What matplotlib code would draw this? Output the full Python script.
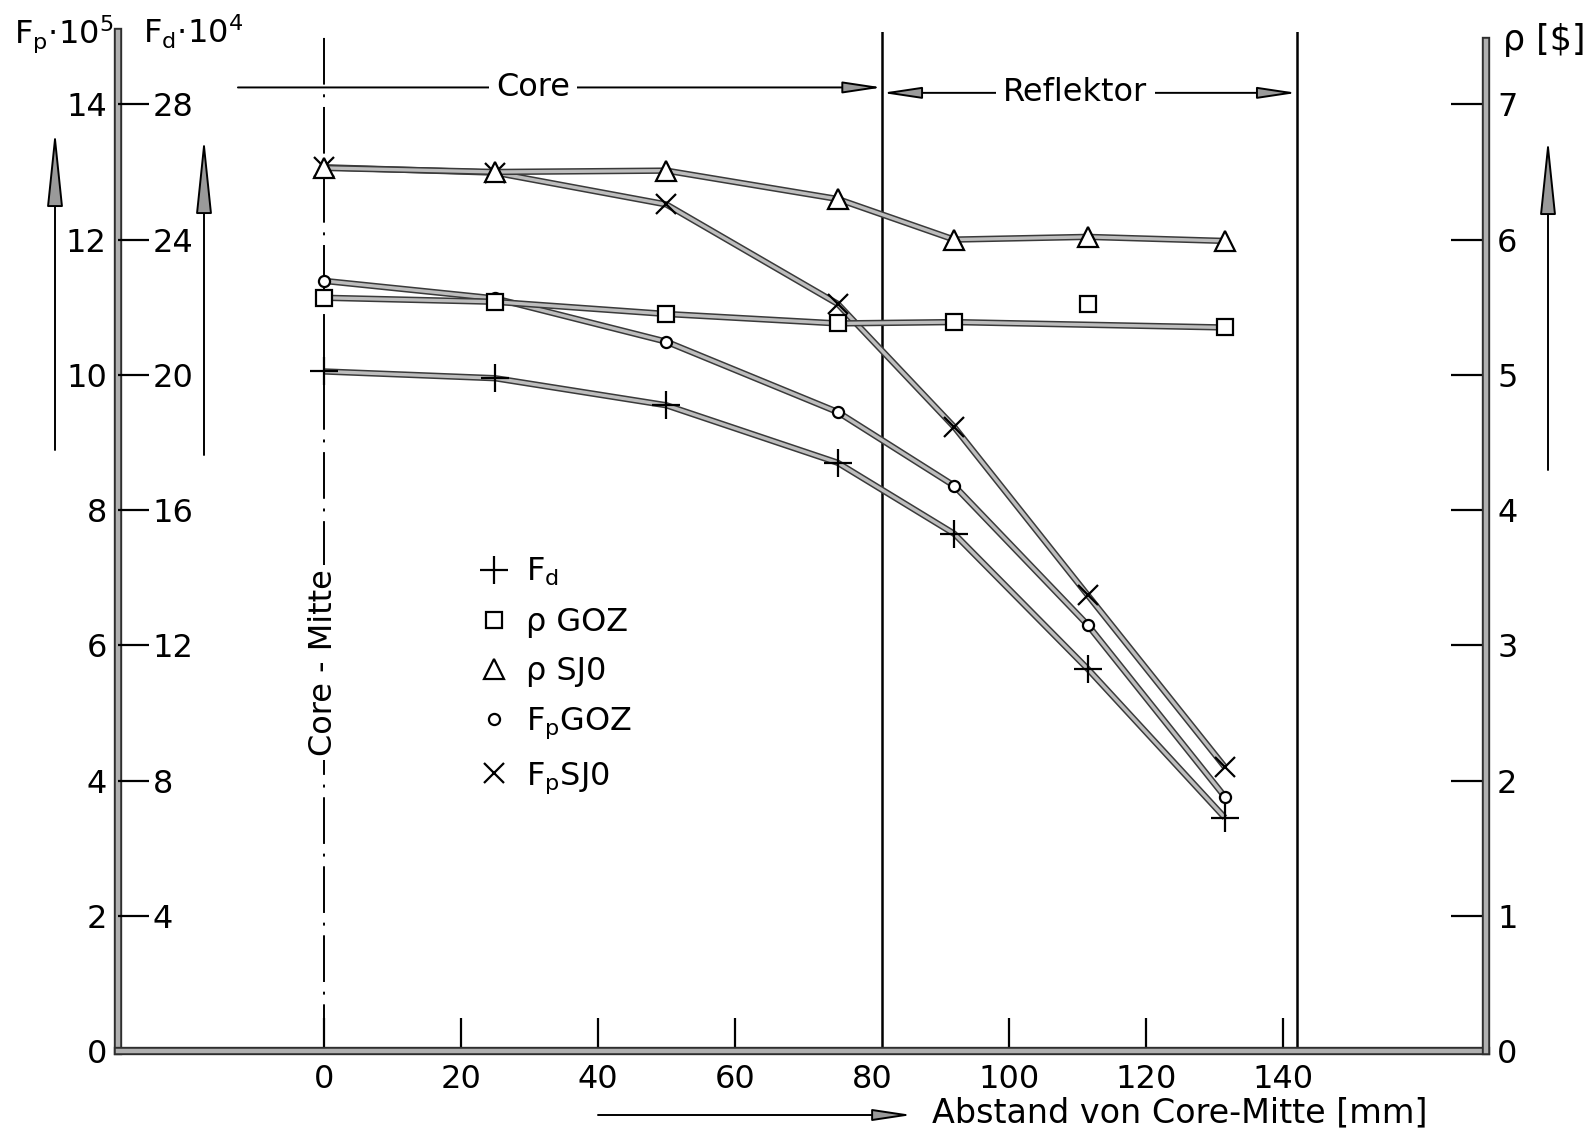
import numpy as np
import matplotlib
matplotlib.use('Agg')
import matplotlib.pyplot as plt
from matplotlib import patheffects as pe

plt.rcParams['font.family'] = ['DejaVu Sans']
plt.rcParams['mathtext.default'] = 'regular'

# Messpositionen [mm] ab Core-Mitte
abstand = [0, 25, 50, 75, 92, 111.5, 131.5]

# Messwerte
fd = [20.1, 19.9, 19.1, 17.4, 15.3, 11.3, 6.9]            # F_d * 10^4
rho_goz = [5.57, 5.54, 5.45, 5.38, 5.39, 5.52, 5.35]       # rho [$]
rho_goz_kurve = [True, True, True, True, True, False, True]  # Punkte auf der Kurve
rho_sj0 = [6.53, 6.50, 6.51, 6.30, 6.00, 6.02, 5.99]       # rho [$]
fp_goz = [11.39, 11.13, 10.49, 9.45, 8.36, 6.30, 3.76]     # F_p * 10^5
fp_sj0 = [13.07, 12.99, 12.52, 11.05, 9.23, 6.74, 4.20]    # F_p * 10^5

fp_ticks = list(range(0, 15, 2))
fd_ticks = list(range(4, 29, 4))
rho_ticks = list(range(0, 8))
x_ticks = list(range(0, 141, 20))

W, H = 1585, 1136
FS = 23
fp_top = 15.07


def fx(px):
    return px / W


def fy(py):
    return 1 - py / H


fig = plt.figure(figsize=(W / 100, H / 100), dpi=100)
ax = fig.add_axes([fx(118), fy(1051), fx(1486) - fx(118), fy(32) - fy(1051)])
ax_fd = ax.twinx()
ax_r = ax.twinx()

ax.set_xlim(-30, 169.6)
ax.set_ylim(0, fp_top)
ax_fd.set_ylim(0, 2 * fp_top)
ax_r.set_ylim(0, fp_top / 2)

# Achsen im Stil der Zeichnung: graue Doppellinie
spine_fx = [pe.Stroke(linewidth=6, foreground='#2e2e2e'), pe.Normal()]
for a in (ax, ax_fd, ax_r):
    for s in a.spines.values():
        s.set_visible(False)
for s in (ax.spines['left'], ax.spines['bottom'], ax_r.spines['right']):
    s.set_visible(True)
    s.set_linewidth(3.2)
    s.set_color('#b0b0b0')
    s.set_path_effects(spine_fx)
ax_r.spines['right'].set_bounds(0, 7.47)

ax.set_xticks(x_ticks)
ax.tick_params(axis='x', direction='in', length=24, width=1.6, pad=9, labelsize=FS)
# bei 80 mm liegt die Core-Grenze, dort kein eigener Strich
ax.xaxis.get_major_ticks()[x_ticks.index(80)].tick1line.set_visible(False)
ax.set_yticks(fp_ticks)
ax.tick_params(axis='y', length=0, pad=8, labelsize=FS)

ax_fd.spines['right'].set_position(('axes', 0))
ax_fd.set_yticks(fd_ticks)
ax_fd.tick_params(axis='y', direction='out', length=22, width=1.6, pad=3, labelsize=FS)

ax_r.set_yticks(rho_ticks)
ax_r.tick_params(axis='y', direction='in', length=25, width=1.6, pad=8, labelsize=FS)
ax_r.yaxis.get_major_ticks()[0].tick2line.set_visible(False)

# Kurven: graue Linie mit dunklem Rand
line_fx = [pe.Stroke(linewidth=4.6, foreground='#3a3a3a'), pe.Normal()]


def kurve(a, x, y):
    a.plot(x, y, color='#bdbdbd', lw=2.4, solid_capstyle='butt', zorder=2,
           path_effects=line_fx)


x = np.array(abstand)
kurve(ax_fd, x, fd)
m = np.array(rho_goz_kurve)
kurve(ax_r, x[m], np.array(rho_goz)[m])
kurve(ax_r, x, rho_sj0)
kurve(ax, x, fp_goz)
kurve(ax, x, fp_sj0)

mk = dict(ls='none', mec='black', mfc='white', mew=1.6, zorder=4)
h_fd, = ax_fd.plot(x, fd, marker='+', ms=20, label='$F_d$', **mk)
h_rg, = ax_r.plot(x, rho_goz, marker='s', ms=12, label='ρ GOZ', **mk)
h_rs, = ax_r.plot(x, rho_sj0, marker='^', ms=15, label='ρ SJ0', **mk)
h_pg, = ax.plot(x, fp_goz, marker='o', ms=8, label='$F_p$GOZ', **mk)
h_ps, = ax.plot(x, fp_sj0, marker='x', ms=15, label='$F_p$SJ0', **mk)

ax_r.legend(handles=[h_fd, h_rg, h_rs, h_pg, h_ps], loc='upper left',
            bbox_to_anchor=(fx(478), fy(556)), bbox_transform=fig.transFigure,
            frameon=False, fontsize=FS, handlelength=1.0, handletextpad=0.5,
            labelspacing=0.58, borderpad=0, borderaxespad=0)

# Core-Grenzen und Core-Mitte
ax.axvline(81.5, color='black', lw=1.8, zorder=1)
ax.axvline(142, color='black', lw=1.8, zorder=1)
ax.axvline(0, color='black', lw=1.4, dashes=(24, 5, 1.5, 5), zorder=1)
ax.text(0, 5.75, 'Core - Mitte', rotation=90, ha='center', va='center',
        fontsize=FS, bbox=dict(fc='white', ec='none', pad=3), zorder=5)

arrow = dict(lw=1.4, ec='black', fc='#9a9a9a', mutation_scale=20,
             shrinkA=0, shrinkB=0)
ax.annotate('', xy=(81.5, 14.25), xytext=(-12.5, 14.25),
            arrowprops=dict(arrowstyle='-|>,head_length=1.2,head_width=0.18', **arrow))
ax.text(30.6, 14.25, 'Core', ha='center', va='center', fontsize=FS,
        bbox=dict(fc='white', ec='none', pad=5), zorder=5)
ax.annotate('', xy=(142, 14.17), xytext=(81.5, 14.17),
            arrowprops=dict(arrowstyle='<|-|>,head_length=1.2,head_width=0.18', **arrow))
ax.text(109.7, 14.17, 'Reflektor', ha='center', va='center', fontsize=FS,
        bbox=dict(fc='white', ec='none', pad=5), zorder=5)

# Pfeile neben den Achsen
for x0, y0, y1 in [(55, 450, 130), (204, 455, 137), (1548, 470, 138)]:
    fig.add_artist(plt.matplotlib.patches.FancyArrowPatch(
        (fx(x0), fy(y0)), (fx(x0), fy(y1)), transform=fig.transFigure,
        arrowstyle='-|>,head_length=2.4,head_width=0.25', **arrow))
fig.add_artist(plt.matplotlib.patches.FancyArrowPatch(
    (fx(598), fy(1115)), (fx(912), fy(1115)), transform=fig.transFigure,
    arrowstyle='-|>,head_length=1.2,head_width=0.18', **arrow))

fig.text(fx(932), fy(1113), 'Abstand von Core-Mitte [mm]', ha='left', va='center',
         fontsize=FS + 1)
fig.text(fx(14), fy(44), r'$F_p{\cdot}10^5$', ha='left', va='baseline', fontsize=FS)
fig.text(fx(143), fy(44), r'$F_d{\cdot}10^4$', ha='left', va='baseline', fontsize=FS)
fig.text(fx(1503), fy(50), 'ρ [\\$]', ha='left', va='baseline', fontsize=FS + 2)

fig.savefig('out.png', dpi=100, facecolor='white')
